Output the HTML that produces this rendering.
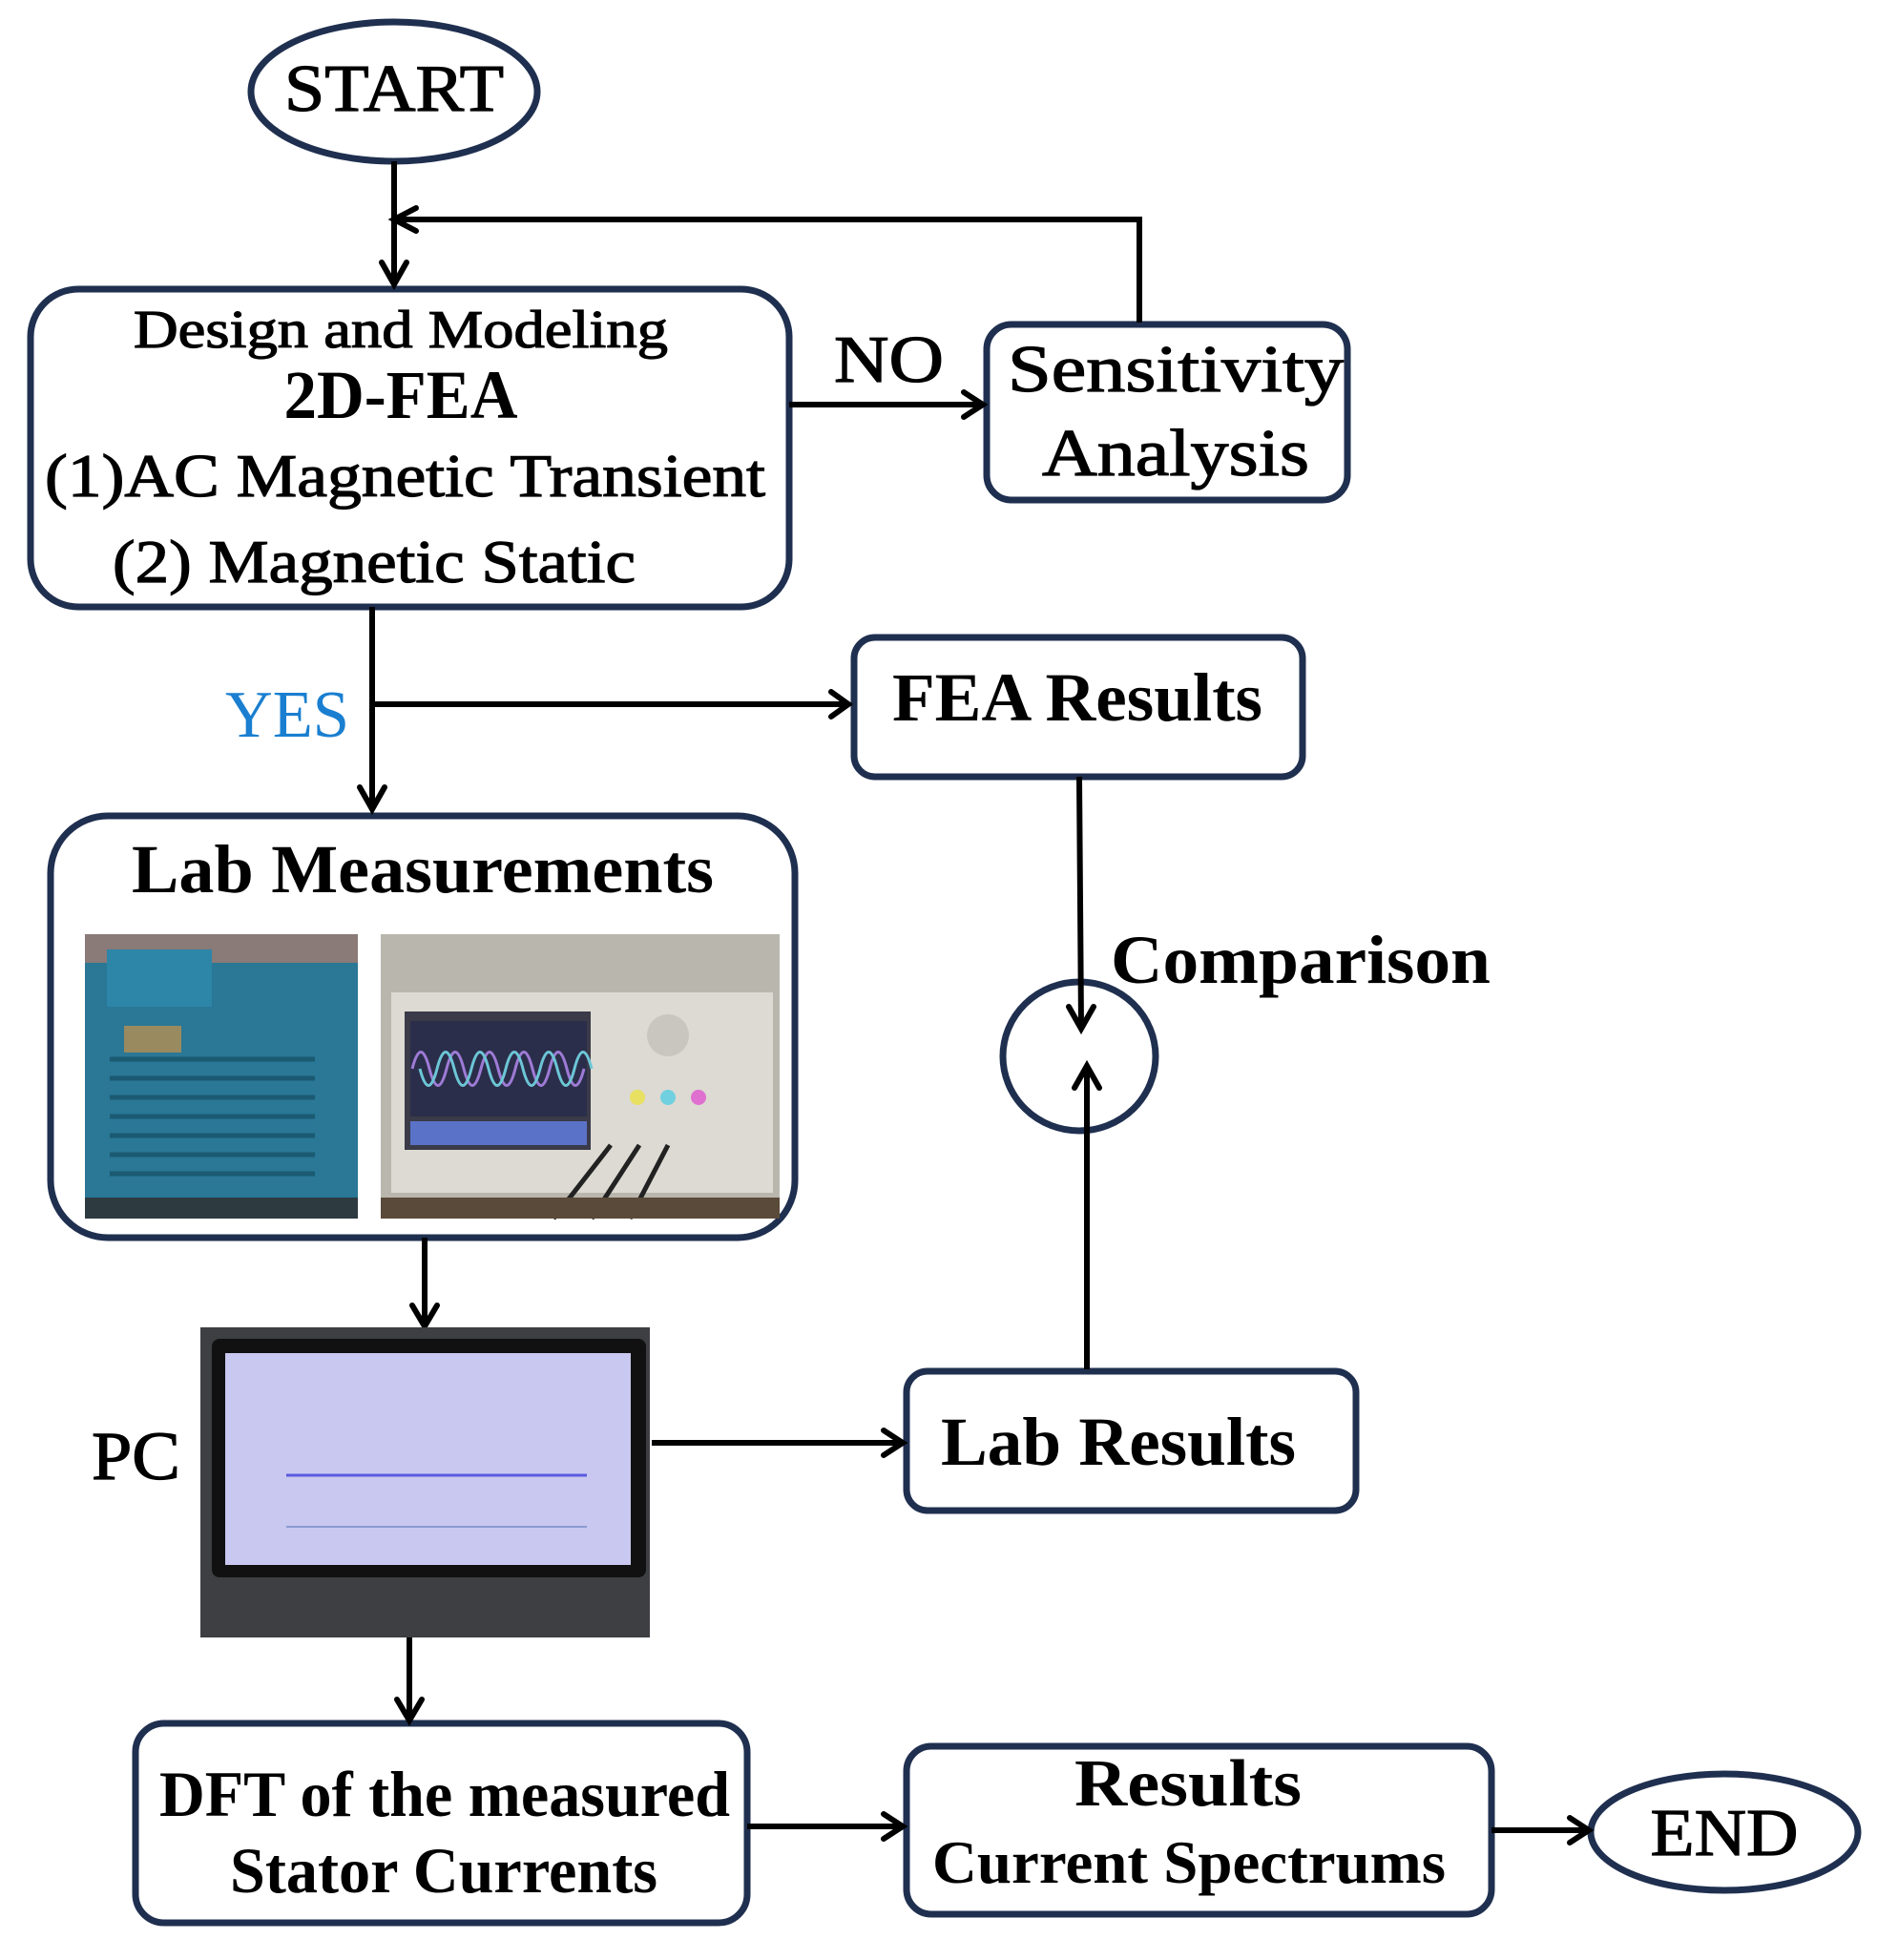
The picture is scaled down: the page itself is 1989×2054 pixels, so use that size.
<!DOCTYPE html>
<html><head><meta charset="utf-8"><style>
html,body{margin:0;padding:0;background:#fff;}
svg{display:block;}
text{font-family:"Liberation Serif",serif;fill:#000;}
.r{stroke:#000;stroke-width:1.2;}
</style></head><body>
<svg width="1989" height="2054" viewBox="0 0 1989 2054" xmlns="http://www.w3.org/2000/svg">
<g fill="none" stroke="#1f2f4f" stroke-width="7">
<ellipse cx="413" cy="96" rx="150" ry="73"/>
<rect x="32" y="303" width="795" height="333" rx="50"/>
<rect x="1034" y="340" width="378" height="184" rx="26"/>
<rect x="895" y="668" width="470" height="146" rx="22"/>
<rect x="53" y="855" width="780" height="442" rx="60"/>
<ellipse cx="1131" cy="1107" rx="80" ry="78"/>
<rect x="950" y="1437" width="471" height="146" rx="22"/>
<rect x="142" y="1806" width="641" height="209" rx="30"/>
<rect x="950" y="1830" width="613" height="176" rx="26"/>
<ellipse cx="1807" cy="1920" rx="140" ry="61"/>
</g>
<g stroke="#000" stroke-width="6" fill="none">
<line x1="413" y1="169" x2="413" y2="298"/>
<polyline points="1194,338 1194,230 413,230"/>
<line x1="827" y1="424" x2="1028" y2="424"/>
<line x1="390" y1="636" x2="390" y2="848"/>
<line x1="390" y1="738" x2="889" y2="738"/>
<line x1="1131" y1="814" x2="1133" y2="1076"/>
<line x1="1139" y1="1435" x2="1139" y2="1120"/>
<line x1="445" y1="1297" x2="445" y2="1388"/>
<line x1="683" y1="1512" x2="944" y2="1512"/>
<line x1="429" y1="1716" x2="429" y2="1800"/>
<line x1="783" y1="1914" x2="944" y2="1914"/>
<line x1="1563" y1="1918" x2="1662" y2="1918"/>
</g>
<g stroke="#000" stroke-width="6" fill="none" stroke-linecap="round">
<polyline points="400,275 413,298 426,275"/>
<polyline points="436,218 413,230 436,242"/>
<polyline points="1010,411 1030,424 1010,437"/>
<polyline points="377,825 390,848 403,825"/>
<polyline points="871,725 889,738 871,751"/>
<polyline points="1120,1055 1133,1078 1146,1055"/>
<polyline points="1126,1140 1139,1117 1152,1140"/>
<polyline points="432,1368 445,1390 458,1368"/>
<polyline points="926,1499 946,1512 926,1525"/>
<polyline points="416,1781 429,1803 442,1781"/>
<polyline points="926,1901 946,1914 926,1927"/>
<polyline points="1645,1905 1665,1918 1645,1931"/>
</g>
<!-- photos -->
<rect x="89" y="979" width="286" height="298" fill="#2a7796"/>
<rect x="89" y="979" width="286" height="30" fill="#8a7a78"/>
<rect x="112" y="995" width="110" height="60" fill="#2d86a8"/>
<rect x="130" y="1075" width="60" height="28" fill="#9a8a60"/>
<g stroke="#1b5a72" stroke-width="5">
<line x1="115" y1="1110" x2="330" y2="1110"/><line x1="115" y1="1130" x2="330" y2="1130"/><line x1="115" y1="1150" x2="330" y2="1150"/><line x1="115" y1="1170" x2="330" y2="1170"/><line x1="115" y1="1190" x2="330" y2="1190"/><line x1="115" y1="1210" x2="330" y2="1210"/><line x1="115" y1="1230" x2="330" y2="1230"/>
</g>
<rect x="89" y="1255" width="286" height="22" fill="#2d3a40"/>
<rect x="399" y="979" width="418" height="298" fill="#b9b6ad"/>
<rect x="410" y="1040" width="400" height="210" fill="#dcdad2"/>
<rect x="424" y="1060" width="195" height="145" fill="#3a3a48"/>
<rect x="430" y="1070" width="185" height="100" fill="#2b2e4a"/>
<path d="M432,1120 q9,-35 18,0 t18,0 t18,0 t18,0 t18,0 t18,0 t18,0 t18,0 t18,0 t18,0" stroke="#9e7bd6" stroke-width="3" fill="none"/>
<path d="M440,1120 q9,35 18,0 t18,0 t18,0 t18,0 t18,0 t18,0 t18,0 t18,0 t18,0 t18,0" stroke="#6cc6d6" stroke-width="3" fill="none"/>
<rect x="430" y="1175" width="185" height="25" fill="#5a72c8"/>
<circle cx="700" cy="1085" r="22" fill="#c8c6be"/>
<circle cx="668" cy="1150" r="8" fill="#e8e060"/><circle cx="700" cy="1150" r="8" fill="#70d0e0"/><circle cx="732" cy="1150" r="8" fill="#e070d0"/>
<path d="M640,1200 l-60,77 M670,1200 l-50,77 M700,1200 l-40,77" stroke="#222" stroke-width="5"/>
<rect x="399" y="1255" width="418" height="22" fill="#5a4a3a"/>
<!-- PC -->
<rect x="210" y="1391" width="471" height="325" fill="#3d3f42"/>
<rect x="222" y="1403" width="455" height="250" rx="8" fill="#111"/>
<rect x="236" y="1418" width="425" height="222" fill="#c8c8f0"/>
<line x1="300" y1="1546" x2="615" y2="1546" stroke="#5a5ae0" stroke-width="3"/>
<line x1="300" y1="1600" x2="615" y2="1600" stroke="#8a9ad0" stroke-width="2"/>
<!-- texts -->
<text class="r" x="420" y="364" font-size="56" text-anchor="middle" textLength="560" lengthAdjust="spacingAndGlyphs">Design and Modeling</text>
<text x="420" y="438" font-size="72" font-weight="bold" text-anchor="middle" textLength="245" lengthAdjust="spacingAndGlyphs">2D-FEA</text>
<text class="r" x="47" y="520" font-size="64" textLength="755" lengthAdjust="spacingAndGlyphs">(1)AC Magnetic  Transient</text>
<text class="r" x="118" y="610" font-size="64" textLength="548" lengthAdjust="spacingAndGlyphs">(2) Magnetic  Static</text>
<text class="r" x="413" y="116" font-size="70" text-anchor="middle" textLength="230" lengthAdjust="spacingAndGlyphs">START</text>
<text class="r" x="874" y="400" font-size="70" textLength="115" lengthAdjust="spacingAndGlyphs">NO</text>
<text class="r" x="1056" y="410" font-size="70" textLength="352" lengthAdjust="spacingAndGlyphs">Sensitivity</text>
<text class="r" x="1092" y="498" font-size="70" textLength="280" lengthAdjust="spacingAndGlyphs">Analysis</text>
<text x="236" y="772" font-size="70" style="fill:#1a7fd0" textLength="130" lengthAdjust="spacingAndGlyphs">YES</text>
<text x="935" y="755" font-size="72" font-weight="bold" textLength="388" lengthAdjust="spacingAndGlyphs">FEA Results</text>
<text x="138" y="935" font-size="72" font-weight="bold" textLength="610" lengthAdjust="spacingAndGlyphs">Lab Measurements</text>
<text x="1164" y="1030" font-size="72" font-weight="bold" textLength="398" lengthAdjust="spacingAndGlyphs">Comparison</text>
<text class="r" x="96" y="1550" font-size="72" textLength="93" lengthAdjust="spacingAndGlyphs">PC</text>
<text x="986" y="1535" font-size="72" font-weight="bold" textLength="372" lengthAdjust="spacingAndGlyphs">Lab Results</text>
<text x="167" y="1903" font-size="68" font-weight="bold" textLength="598" lengthAdjust="spacingAndGlyphs">DFT of the measured</text>
<text x="241" y="1983" font-size="68" font-weight="bold" textLength="448" lengthAdjust="spacingAndGlyphs">Stator  Currents</text>
<text x="1245" y="1892" font-size="70" font-weight="bold" text-anchor="middle" textLength="238" lengthAdjust="spacingAndGlyphs">Results</text>
<text x="977" y="1973" font-size="64" font-weight="bold" textLength="538" lengthAdjust="spacingAndGlyphs">Current Spectrums</text>
<text class="r" x="1807" y="1944" font-size="70" text-anchor="middle" textLength="155" lengthAdjust="spacingAndGlyphs">END</text>
</svg>
</body></html>
